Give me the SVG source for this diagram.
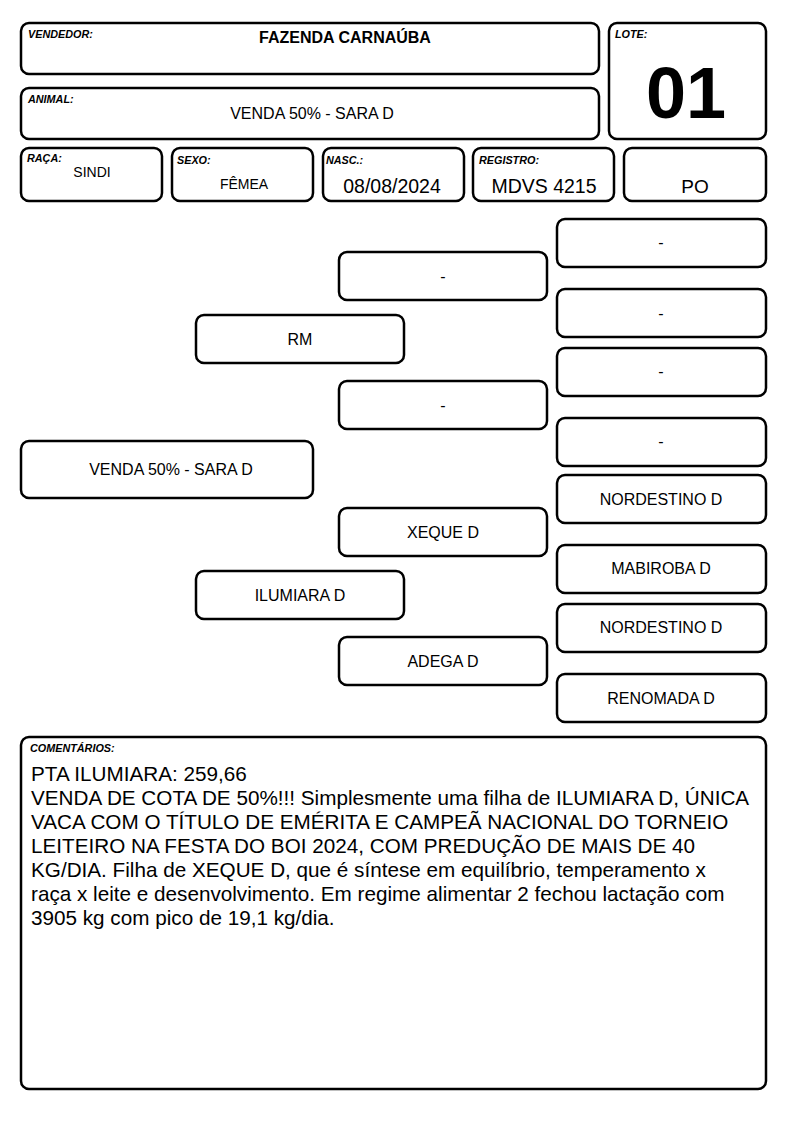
<svg xmlns="http://www.w3.org/2000/svg" width="794" height="1123" viewBox="0 0 794 1123">
<style>
.b{fill:#fff;stroke:#000;stroke-width:2.5}
.lab{font-family:"Liberation Sans",Arial,sans-serif;font-size:10.8px;font-weight:bold;font-style:italic}
.t{font-family:"Liberation Sans",Arial,sans-serif;text-anchor:middle;fill:#000}
.p{font-family:"Liberation Sans",Arial,sans-serif;font-size:16px;text-anchor:middle}
.c{font-family:"Liberation Sans",Arial,sans-serif;font-size:20.7px}
</style>
<rect width="794" height="1123" fill="#fff"/>
<g id="vendedor"><rect class="b" x="21" y="23" width="578" height="51" rx="8"/><text class="lab" x="28" y="38">VENDEDOR:</text><text class="t" x="345" y="43" font-size="16" font-weight="bold">FAZENDA CARNAÚBA</text></g>
<g id="animal"><rect class="b" x="21" y="88" width="578" height="51" rx="8"/><text class="lab" x="28" y="103">ANIMAL:</text><text class="t" x="312" y="119" font-size="16">VENDA 50% - SARA D</text></g>
<g id="lote"><rect class="b" x="609" y="23" width="157" height="116" rx="8"/><text class="lab" x="615" y="38">LOTE:</text><text class="t" x="686" y="118" font-size="72" font-weight="bold">01</text></g>
<g id="raca"><rect class="b" x="21" y="148" width="141" height="53" rx="8"/><text class="lab" x="27" y="162">RAÇA:</text><text class="t" x="92" y="177" font-size="14">SINDI</text></g>
<g id="sexo"><rect class="b" x="172" y="148" width="141" height="53" rx="8"/><text class="lab" x="177" y="164">SEXO:</text><text class="t" x="244" y="189" font-size="14">FÊMEA</text></g>
<g id="nasc"><rect class="b" x="323" y="148" width="141" height="53" rx="8"/><text class="lab" x="326" y="164">NASC.:</text><text class="t" x="392" y="193" font-size="19.5">08/08/2024</text></g>
<g id="registro"><rect class="b" x="473" y="148" width="141" height="53" rx="8"/><text class="lab" x="479" y="164">REGISTRO:</text><text class="t" x="544" y="193" font-size="19.5">MDVS 4215</text></g>
<g id="po"><rect class="b" x="624" y="148" width="142" height="53" rx="8"/><text class="t" x="695" y="193" font-size="19">PO</text></g>
<g id="connectors"></g>
<g id="n0"><rect class="b" x="21" y="441" width="292" height="57" rx="8"/><text class="p" x="171" y="475">VENDA 50% - SARA D</text></g>
<g id="n1a"><rect class="b" x="196" y="315" width="208" height="48" rx="8"/><text class="p" x="300" y="345">RM</text></g>
<g id="n1b"><rect class="b" x="196" y="571" width="208" height="48" rx="8"/><text class="p" x="300" y="601">ILUMIARA D</text></g>
<g id="n2a"><rect class="b" x="339" y="252" width="208" height="48" rx="8"/><text class="p" x="443" y="282">-</text></g>
<g id="n2b"><rect class="b" x="339" y="381" width="208" height="48" rx="8"/><text class="p" x="443" y="411">-</text></g>
<g id="n2c"><rect class="b" x="339" y="508" width="208" height="48" rx="8"/><text class="p" x="443" y="538">XEQUE D</text></g>
<g id="n2d"><rect class="b" x="339" y="637" width="208" height="48" rx="8"/><text class="p" x="443" y="667">ADEGA D</text></g>
<g id="n3a"><rect class="b" x="557" y="219" width="209" height="48" rx="8"/><text class="p" x="661" y="248">-</text></g>
<g id="n3b"><rect class="b" x="557" y="289" width="209" height="48" rx="8"/><text class="p" x="661" y="319">-</text></g>
<g id="n3c"><rect class="b" x="557" y="348" width="209" height="48" rx="8"/><text class="p" x="661" y="377">-</text></g>
<g id="n3d"><rect class="b" x="557" y="418" width="209" height="48" rx="8"/><text class="p" x="661" y="447">-</text></g>
<g id="n3e"><rect class="b" x="557" y="475" width="209" height="48" rx="8"/><text class="p" x="661" y="505">NORDESTINO D</text></g>
<g id="n3f"><rect class="b" x="557" y="545" width="209" height="48" rx="8"/><text class="p" x="661" y="574">MABIROBA D</text></g>
<g id="n3g"><rect class="b" x="557" y="604" width="209" height="48" rx="8"/><text class="p" x="661" y="633">NORDESTINO D</text></g>
<g id="n3h"><rect class="b" x="557" y="674" width="209" height="48" rx="8"/><text class="p" x="661" y="704">RENOMADA D</text></g>
<g id="comentarios"><rect class="b" x="21" y="737" width="745" height="352" rx="8"/><text class="lab" x="30" y="752" font-size="10">COMENTÁRIOS:</text>
<text class="c" x="31" y="781">PTA ILUMIARA: 259,66</text>
<text class="c" x="31" y="805">VENDA DE COTA DE 50%!!! Simplesmente uma filha de ILUMIARA D, ÚNICA</text>
<text class="c" x="31" y="829">VACA COM O TÍTULO DE EMÉRITA E CAMPEÃ NACIONAL DO TORNEIO</text>
<text class="c" x="31" y="853">LEITEIRO NA FESTA DO BOI 2024, COM PREDUÇÃO DE MAIS DE 40</text>
<text class="c" x="31" y="877">KG/DIA. Filha de XEQUE D, que é síntese em equilíbrio, temperamento x</text>
<text class="c" x="31" y="901">raça x leite e desenvolvimento. Em regime alimentar 2 fechou lactação com</text>
<text class="c" x="31" y="925">3905 kg com pico de 19,1 kg/dia.</text>
</g>
</svg>
